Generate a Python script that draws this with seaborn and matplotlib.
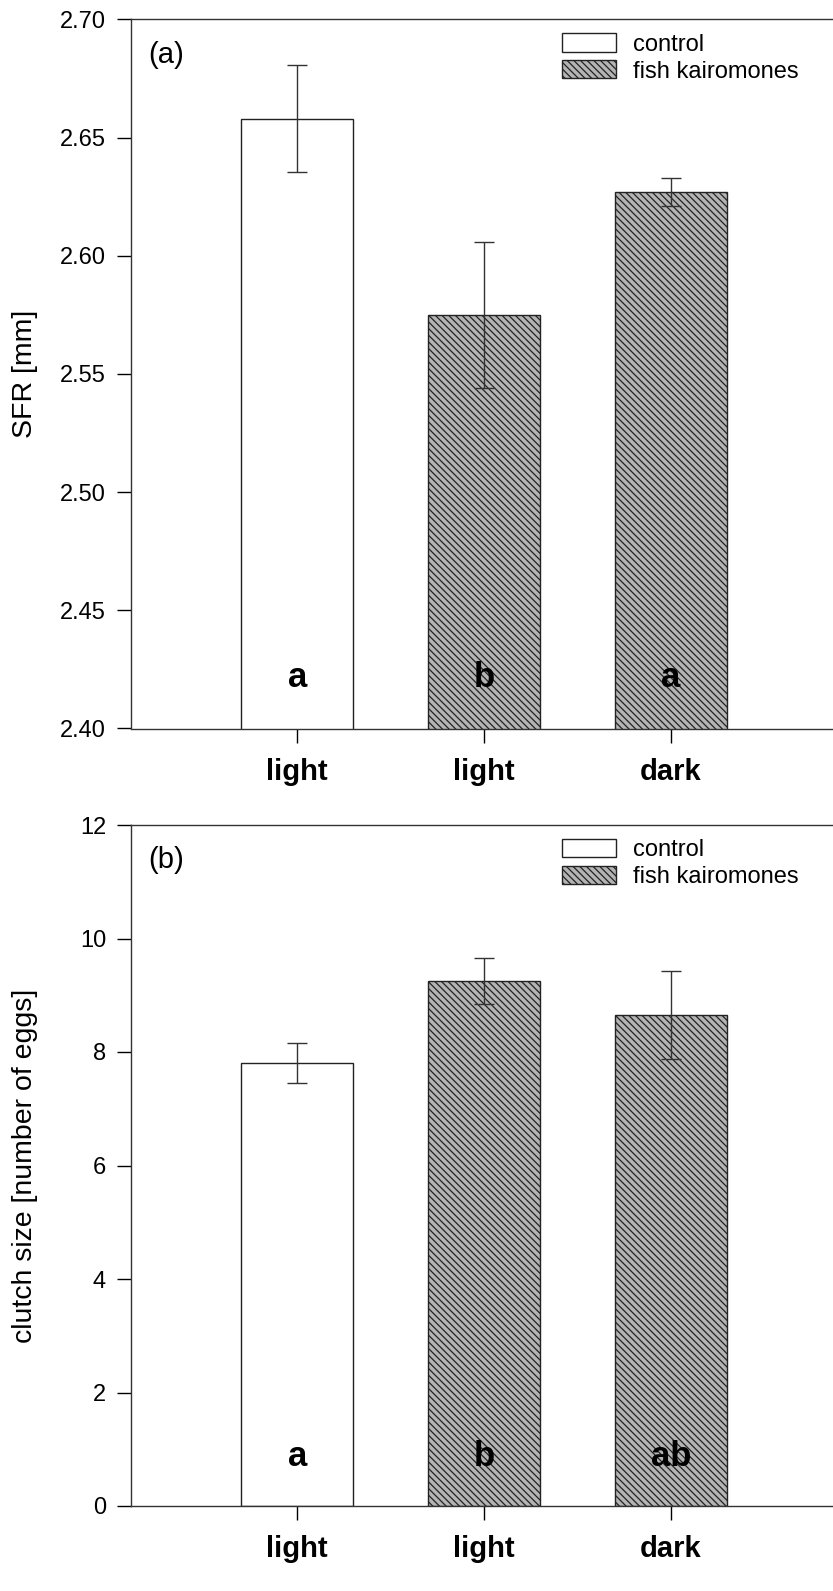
import pandas as pd
import seaborn as sns
import matplotlib.pyplot as plt
from matplotlib.patches import Patch

# style
sns.set_style('white')
plt.rcParams['font.family'] = ['Liberation Sans', 'DejaVu Sans']
plt.rcParams['hatch.linewidth'] = 0.9
plt.rcParams['text.color'] = 'black'
plt.rcParams['axes.labelcolor'] = 'black'
plt.rcParams['xtick.color'] = 'black'
plt.rcParams['ytick.color'] = 'black'

# data
groups = ['control light', 'fish light', 'fish dark']
tick_labels = ['light', 'light', 'dark']
treatment = ['control', 'fish kairomones', 'fish kairomones']

sfr_mean = [2.658, 2.575, 2.627]
sfr_se = [0.0225, 0.031, 0.006]
sfr_letters = ['a', 'b', 'a']

clutch_mean = [7.8, 9.25, 8.65]
clutch_se = [0.35, 0.40, 0.78]
clutch_letters = ['a', 'b', 'ab']

GRAY = '#b4b4b4'
EDGE = '#222222'
HATCH = '\\\\\\\\\\'

fig = plt.figure(figsize=(8.33, 15.91), dpi=100)
ax_a = fig.add_axes([131 / 833, 1 - 728.5 / 1591, (837 - 131) / 833, (728.5 - 19.3) / 1591])
ax_b = fig.add_axes([131 / 833, 1 - 1506 / 1591, (837 - 131) / 833, (1506 - 825) / 1591])


def panel(ax, means, errs, letters, ylim, yticks, yfmt, ylabel, tag):
    df = pd.DataFrame({'group': groups, 'value': means, 'treatment': treatment})
    sns.barplot(data=df, x='group', y='value', hue='treatment', order=groups,
                hue_order=['control', 'fish kairomones'], dodge=False,
                palette={'control': 'white', 'fish kairomones': GRAY},
                edgecolor=EDGE, linewidth=1.0, width=0.6, errorbar=None,
                legend=False, ax=ax)
    for p in ax.patches:
        if p.get_facecolor()[0] < 0.9:
            p.set_hatch(HATCH)
    ax.errorbar(range(len(groups)), means, yerr=errs, fmt='none',
                ecolor='#333333', elinewidth=1.0, capsize=7, capthick=1.0, zorder=5)
    for i, s in enumerate(letters):
        ax.text(i, 0.072, s, transform=ax.get_xaxis_transform(), ha='center',
                va='center', fontsize=25, fontweight='bold')
    ax.set_xlim(-0.89, 2.89)
    ax.set_ylim(*ylim)
    ax.set_yticks(yticks)
    ax.set_yticklabels([yfmt.format(v) for v in yticks])
    ax.set_xticks(range(len(groups)))
    ax.set_xticklabels(tick_labels, fontweight='bold', fontsize=21)
    ax.set_xlabel('')
    ax.set_ylabel(ylabel, fontsize=20.5)
    ax.yaxis.set_label_coords(-0.132, 0.5)
    ax.tick_params(axis='y', direction='out', length=10, width=1, pad=8, labelsize=17, left=True)
    ax.tick_params(axis='x', direction='out', length=10, width=1, pad=11, bottom=True)
    for side in ['left', 'bottom', 'top']:
        ax.spines[side].set_color('#333333')
        ax.spines[side].set_linewidth(1.0)
    ax.spines['right'].set_visible(False)
    ax.text(0.024, 0.949, tag, transform=ax.transAxes, ha='left', va='center', fontsize=21)
    handles = [Patch(facecolor='white', edgecolor=EDGE, linewidth=1.0, label='control'),
               Patch(facecolor=GRAY, edgecolor=EDGE, linewidth=1.0, hatch=HATCH,
                     label='fish kairomones')]
    ax.legend(handles=handles, loc='upper left', bbox_to_anchor=(0.59, 1.0),
              frameon=False, fontsize=17, handlelength=2.3, handleheight=0.8,
              labelspacing=0.2, handletextpad=0.7, borderaxespad=0.2)


panel(ax_a, sfr_mean, sfr_se, sfr_letters, (2.40, 2.70),
      [2.40, 2.45, 2.50, 2.55, 2.60, 2.65, 2.70], '{:.2f}', 'SFR [mm]', '(a)')
panel(ax_b, clutch_mean, clutch_se, clutch_letters, (0, 12),
      [0, 2, 4, 6, 8, 10, 12], '{:.0f}', 'clutch size [number of eggs]', '(b)')

fig.savefig('out.png', dpi=100)
